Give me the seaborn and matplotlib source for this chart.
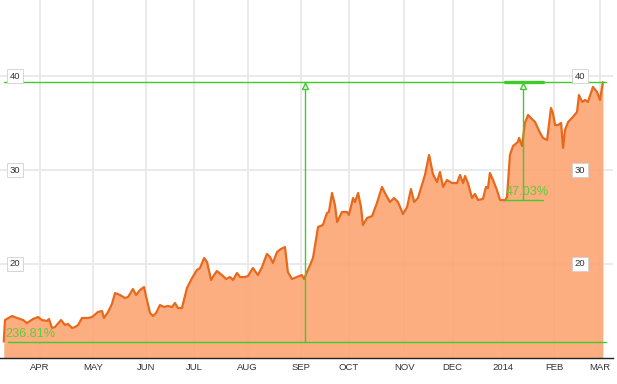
import matplotlib
matplotlib.use("Agg")
import matplotlib.pyplot as plt
import matplotlib.transforms as mtransforms
import seaborn as sns
import pandas as pd

# ---- data: trading session index (0 = first session shown) and closing price ----
sessions = [0, 0.5, 3.4, 5.5, 8.0, 9.6, 12.1, 14.2, 15.8, 17.9, 18.7, 20.0, 21.2, 23.7, 25.4,
            26.6, 28.3, 29.5, 30.8, 32.4, 34.9, 36.6, 39.0, 40.7, 41.5, 43.2, 44.8, 46.1, 48.2,
            50.2, 51.5, 53.5, 54.8, 56.4, 58.1, 59.3, 60.6, 61.8, 63.1, 64.7, 66.4, 68.0, 69.7,
            70.9, 72.2, 73.8, 75.9, 78.0, 80.0, 81.3, 83.0, 84.2, 85.9, 87.1, 88.3, 90.4, 92.1,
            93.7, 95.0, 96.6, 97.9, 99.9, 101.2, 103.2, 105.3, 107.0, 109.0, 110.3, 111.5, 113.2,
            114.8, 116.5, 117.7, 119.4, 121.5, 123.5, 124.4, 125.6, 126.9, 128.1, 130.2, 132.2,
            133.9, 134.7, 136.0, 137.2, 138.1, 140.1, 142.2, 143.0, 144.7, 145.5, 146.8, 148.0,
            148.8, 150.5, 152.6, 154.6, 156.7, 157.9, 160.0, 161.7, 163.3, 165.4, 167.1, 168.7,
            170.0, 171.6, 174.5, 176.2, 177.8, 179.5, 180.7, 182.0, 183.6, 185.7, 187.8, 189.0,
            190.3, 191.1, 192.3, 194.0, 195.2, 196.5, 198.5, 199.8, 200.6, 201.4, 202.7, 204.3,
            205.6, 207.7, 208.5, 209.7, 211.0, 213.0, 213.5, 214.7, 215.9, 217.2, 218.4, 220.1,
            222.2, 223.4, 225.1, 226.7, 227.5, 228.4, 229.6, 230.9, 231.7, 232.5, 233.8, 235.8,
            237.5, 238.3, 239.6, 240.8, 242.0, 244.1, 245.8, 247.0, 248.2]
prices = [11.69, 13.99, 14.42, 14.21, 13.99, 13.67, 14.10, 14.31, 13.99, 13.89, 14.10, 13.14,
          13.24, 13.99, 13.46, 13.57, 13.14, 13.24, 13.46, 14.21, 14.21, 14.31, 14.85, 14.95,
          14.21, 14.85, 15.70, 16.87, 16.66, 16.34, 16.45, 17.30, 16.66, 17.19, 17.51, 16.13,
          14.74, 14.42, 14.74, 15.59, 15.38, 15.49, 15.38, 15.81, 15.27, 15.27, 17.41, 18.47,
          19.33, 19.54, 20.61, 20.18, 18.26, 18.79, 19.22, 18.79, 18.37, 18.58, 18.26, 19.01,
          18.58, 18.58, 18.69, 19.54, 18.79, 19.65, 21.04, 20.72, 20.08, 21.25, 21.57, 21.78,
          19.11, 18.37, 18.58, 18.79, 18.37, 19.11, 19.86, 20.61, 23.92, 24.13, 25.41, 25.52,
          27.55, 26.26, 24.45, 25.52, 25.52, 25.20, 27.01, 26.58, 27.55, 26.05, 24.13, 24.88,
          25.09, 26.48, 28.19, 27.55, 26.58, 27.01, 26.58, 25.30, 26.05, 27.97, 26.58, 27.01,
          29.47, 31.60, 29.57, 28.72, 29.79, 28.19, 28.93, 28.61, 28.61, 29.47, 28.61, 29.36,
          28.61, 27.01, 27.44, 26.80, 26.91, 28.19, 28.08, 29.68, 28.93, 27.87, 26.80, 26.77,
          27.12, 31.60, 32.56, 32.99, 33.42, 32.56, 35.02, 35.87, 35.55, 35.12, 33.95, 33.42,
          33.20, 36.62, 36.08, 34.80, 34.80, 35.02, 32.35, 34.27, 35.12, 35.66, 36.19, 38.00,
          37.26, 37.47, 37.26, 38.86, 38.32, 37.47, 39.37]

month_labels = ["APR", "MAY", "JUN", "JUL", "AUG", "SEP", "OCT", "NOV", "DEC", "2014", "FEB", "MAR"]
month_sessions = [15, 37, 59, 79, 101, 123, 143, 166, 186, 207, 228, 247]
price_ticks = [20, 30, 40]

# measurement annotations (from the chart's drawing tools)
long_start, long_end, long_pct = 11.69, 39.37, "236.81%"
long_from, long_to, long_vline = 0.0, 249.5, 124.8
short_start, short_end, short_pct = 26.77, 39.37, "47.03%"
short_from, short_to, short_vline = 207.6, 223.4, 215.1

df = pd.DataFrame({"session": sessions, "price": prices})

# ---- styling ----
sns.set_theme(style="white")
plt.rcParams["font.family"] = ["Liberation Sans", "DejaVu Sans"]

LINE = "#e8691c"
FILL = "#fca878"
GREEN = "#3fcc2a"
GREEN_TXT = "#5fcc36"
GRID = "#e8e8e8"

fig = plt.figure(figsize=(6.17, 3.84), dpi=100)
ax = fig.add_axes([0, 26 / 384, 613 / 617, 358 / 384])
ax.set_xlim(-1.57, 252.4)
ax.set_ylim(9.94, 48.14)

# grid
ax.set_xticks(month_sessions)
ax.set_xticklabels(month_labels)
ax.set_yticks(price_ticks)
ax.set_yticklabels([])
ax.grid(True, color=GRID, linewidth=1.3, zorder=0)
ax.set_axisbelow(True)
ax.tick_params(axis="both", length=0, pad=3.5)
ax.tick_params(axis="x", labelsize=6.8, labelcolor="#333333")
for side in ["top", "left", "right"]:
    ax.spines[side].set_visible(False)
ax.spines["bottom"].set_color("#222222")
ax.spines["bottom"].set_linewidth(1.0)

# area + line
ax.fill_between(df["session"], df["price"], 0, color=FILL, alpha=0.93, linewidth=0, zorder=1)
sns.lineplot(data=df, x="session", y="price", ax=ax, color=LINE, linewidth=1.6,
             zorder=3, estimator=None, sort=False)
ax.set_xlabel("")
ax.set_ylabel("")

# measurement lines
ax.plot([long_from, long_to], [long_end, long_end], color=GREEN, lw=1.0, zorder=4)
ax.plot([long_from + 1.7, long_to], [long_start, long_start], color=GREEN, lw=1.0, zorder=4)
ax.plot([long_vline, long_vline], [long_start, long_end], color=GREEN, lw=1.0, zorder=4)
ax.plot([short_from, short_to], [short_start, short_start], color=GREEN, lw=1.0, zorder=4)
ax.plot([short_vline, short_vline], [short_start, short_end], color=GREEN, lw=1.0, zorder=4)
ax.plot([short_from, short_to], [short_end, short_end], color=GREEN, lw=2.4, zorder=4)

tri_tr = mtransforms.offset_copy(ax.transData, fig=fig, x=0, y=-2.6, units="points")
for xv in [long_vline, short_vline]:
    ax.plot([xv], [long_end], marker="^", markersize=5, markerfacecolor="#eaffea",
            markeredgecolor=GREEN, markeredgewidth=1.0, transform=tri_tr, zorder=5)

txt_tr = mtransforms.offset_copy(ax.transData, fig=fig, x=0, y=1.5, units="points")
ax.text(long_from + 0.6, long_start, long_pct, color=GREEN_TXT, fontsize=9.2,
        ha="left", va="bottom", transform=txt_tr, zorder=6)
ax.text(short_from + 0.3, short_start, short_pct, color=GREEN_TXT, fontsize=9.2,
        ha="left", va="bottom", transform=txt_tr, zorder=6)

# boxed price labels on both sides
blend = mtransforms.blended_transform_factory(ax.transAxes, ax.transData)
box = dict(boxstyle="square,pad=0.25", facecolor="white", edgecolor="#d0d0d0", linewidth=0.6)
for v in price_ticks:
    for xf in [15 / 613, 580 / 613]:
        ax.text(xf, v, str(v), transform=blend, fontsize=6.8, color="#333333",
                ha="center", va="center", bbox=box, zorder=7)

fig.savefig("out.png", dpi=100)
